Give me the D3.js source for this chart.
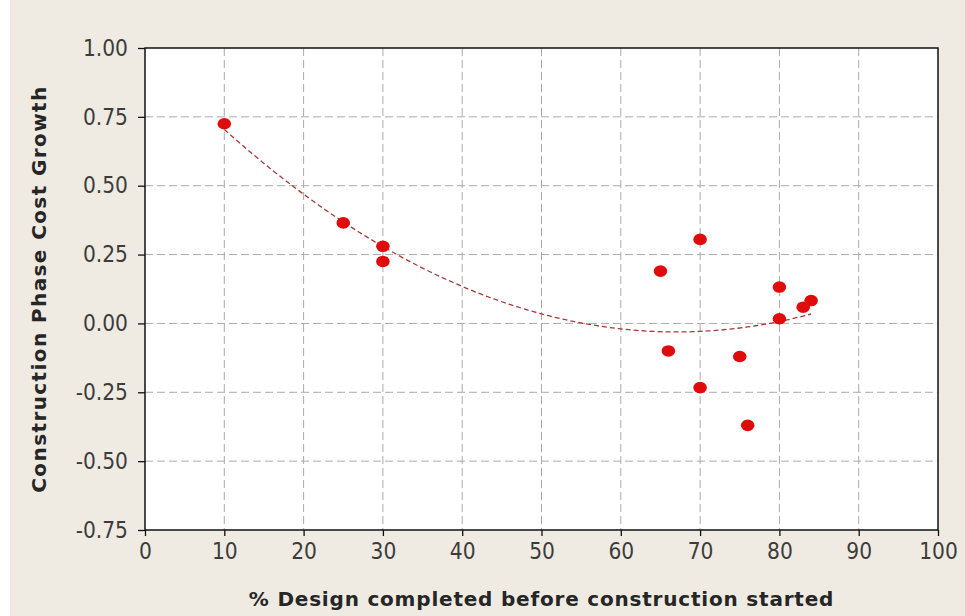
<!DOCTYPE html>
<html>
<head>
<meta charset="utf-8">
<script src="https://cdn.jsdelivr.net/npm/d3@7"></script>
<style>
  html, body { margin: 0; padding: 0; background: #fff; }
  svg { display: block; }
  .tick text { font-family: "DejaVu Sans Condensed", "DejaVu Sans", sans-serif; font-stretch: condensed; font-size: 22.5px; fill: #3c3c3c; }
  .axis-title { font-family: "DejaVu Sans", sans-serif; font-size: 20px; font-weight: bold; letter-spacing: 0.8px; fill: #262626; }
  .axis-title.ytitle { letter-spacing: 1.4px; }
</style>
</head>
<body>
<svg id="chart"></svg>
<script>
    // Design completion (%) and construction phase cost growth for each project
    var designPct = [10, 25, 30, 30, 65, 66, 70, 70, 75, 76, 80, 80, 83, 84];
    var costGrowth = [0.725, 0.365, 0.28, 0.225, 0.19, -0.10, 0.305, -0.233, -0.12, -0.37, 0.132, 0.017, 0.059, 0.083];

    var xTicks = [0, 10, 20, 30, 40, 50, 60, 70, 80, 90, 100];
    var yTicks = [-0.75, -0.50, -0.25, 0.00, 0.25, 0.50, 0.75, 1.00];

    var width = 965,
        height = 616,
        margin = { top: 48, right: 27, bottom: 86, left: 145 };

    var svg = d3.select("#chart")
        .attr("width", width)
        .attr("height", height);

    // beige panel behind the chart
    svg.append("rect")
        .attr("x", 10)
        .attr("y", 0)
        .attr("width", width - 10)
        .attr("height", height)
        .attr("fill", "#efebe2");

    var x = d3.scaleLinear().domain([0, 100]).range([margin.left, width - margin.right]);
    var y = d3.scaleLinear().domain([-0.75, 1.00]).range([height - margin.bottom, margin.top]);

    // plot area
    svg.append("rect")
        .attr("x", x(0))
        .attr("y", y(1))
        .attr("width", x(100) - x(0))
        .attr("height", y(-0.75) - y(1))
        .attr("fill", "#fff");

    // grid lines
    var grid = svg.append("g").attr("class", "grid");
    grid.selectAll(".vgrid")
        .data(xTicks.slice(1, -1))
        .enter().append("line")
        .attr("x1", function (d) { return x(d); })
        .attr("x2", function (d) { return x(d); })
        .attr("y1", y(1))
        .attr("y2", y(-0.75))
        .attr("stroke", "#aaaaaa")
        .attr("stroke-dasharray", "8,4");
    grid.selectAll(".hgrid")
        .data(yTicks.slice(1, -1))
        .enter().append("line")
        .attr("x1", x(0))
        .attr("x2", x(100))
        .attr("y1", function (d) { return y(d); })
        .attr("y2", function (d) { return y(d); })
        .attr("stroke", "#aaaaaa")
        .attr("stroke-dasharray", "8,4");

    // quadratic least-squares trend line
    function quadFit(xs, ys) {
        var n = xs.length, s = [0, 0, 0, 0, 0], t = [0, 0, 0];
        for (var i = 0; i < n; i++) {
            var p = 1;
            for (var k = 0; k < 5; k++) { s[k] += p; if (k < 3) t[k] += p * ys[i]; p *= xs[i]; }
        }
        var m = [[s[0], s[1], s[2], t[0]], [s[1], s[2], s[3], t[1]], [s[2], s[3], s[4], t[2]]];
        for (var c = 0; c < 3; c++) {
            for (var r = c + 1; r < 3; r++) {
                var f = m[r][c] / m[c][c];
                for (var j = c; j < 4; j++) m[r][j] -= f * m[c][j];
            }
        }
        var b = [0, 0, 0];
        for (var r2 = 2; r2 >= 0; r2--) {
            var v = m[r2][3];
            for (var j2 = r2 + 1; j2 < 3; j2++) v -= m[r2][j2] * b[j2];
            b[r2] = v / m[r2][r2];
        }
        return b;
    }
    var coef = quadFit(designPct, costGrowth);
    var xMin = d3.min(designPct), xMax = d3.max(designPct);
    var trend = d3.range(xMin, xMax + 0.5, 1).map(function (v) {
        return [v, coef[0] + coef[1] * v + coef[2] * v * v];
    });
    svg.append("path")
        .datum(trend)
        .attr("fill", "none")
        .attr("stroke", "#a83a3a")
        .attr("stroke-width", 1.3)
        .attr("stroke-dasharray", "5,3")
        .attr("d", d3.line()
            .x(function (d) { return x(d[0]); })
            .y(function (d) { return y(d[1]); }));

    // points
    svg.selectAll(".pt")
        .data(designPct)
        .enter().append("ellipse")
        .attr("class", "pt")
        .attr("cx", function (d) { return x(d); })
        .attr("cy", function (d, i) { return y(costGrowth[i]); })
        .attr("rx", 6.8)
        .attr("ry", 5.8)
        .attr("fill", "#e00c0c");

    // axes
    var xAxis = svg.append("g")
        .attr("transform", "translate(0," + y(-0.75) + ")")
        .call(d3.axisBottom(x).tickValues(xTicks).tickSize(6).tickPadding(7).tickFormat(d3.format("d")));
    var yAxis = svg.append("g")
        .attr("transform", "translate(" + x(0) + ",0)")
        .call(d3.axisLeft(y).tickValues(yTicks).tickSize(7).tickPadding(10)
            .tickFormat(function (d) { return d3.format(".2f")(d).replace("\u2212", "-"); }));
    [xAxis, yAxis].forEach(function (a) {
        a.select(".domain").remove();
        a.selectAll(".tick line").attr("stroke", "#111").attr("stroke-width", 1.3);
    });

    // plot frame
    svg.append("rect")
        .attr("x", x(0))
        .attr("y", y(1))
        .attr("width", x(100) - x(0))
        .attr("height", y(-0.75) - y(1))
        .attr("fill", "none")
        .attr("stroke", "#111")
        .attr("stroke-width", 1.5);

    // axis titles
    svg.append("text")
        .attr("class", "axis-title")
        .attr("x", (x(0) + x(100)) / 2)
        .attr("y", 606)
        .style("text-anchor", "middle")
        .text("% Design completed before construction started");

    svg.append("text")
        .attr("class", "axis-title ytitle")
        .attr("transform", "translate(46," + ((y(1) + y(-0.75)) / 2) + ") rotate(-90)")
        .style("text-anchor", "middle")
        .text("Construction Phase Cost Growth");
</script>
</body>
</html>
